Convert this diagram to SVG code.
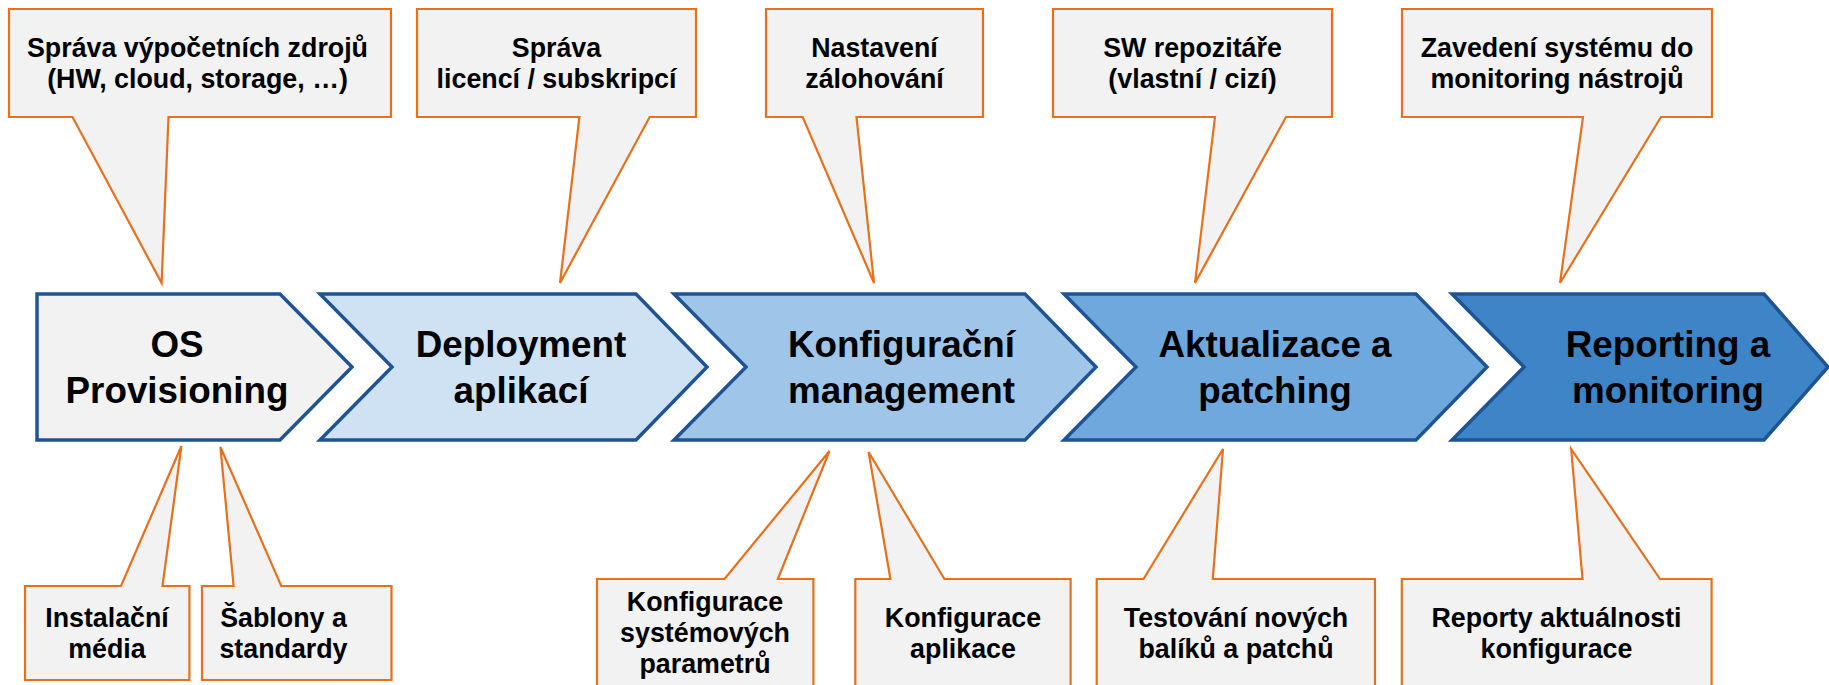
<svg xmlns="http://www.w3.org/2000/svg" width="1829" height="685" viewBox="0 0 1829 685">
<style>
.co{fill:#F2F2F2;stroke:#E8701A;stroke-width:2.2;stroke-linejoin:miter}
.ch{stroke:#1F5494;stroke-width:3.5;stroke-linejoin:miter}
.t1{font-family:"Liberation Sans",Arial,sans-serif;font-weight:bold;font-size:36.8px;fill:#000;text-anchor:middle}
.t2{font-family:"Liberation Sans",Arial,sans-serif;font-weight:bold;font-size:26.8px;fill:#000;text-anchor:middle}
</style>
<rect width="1829" height="685" fill="#FFFFFF"/>
<g id="chevrons">
<g id="os-provisioning">
<path class="ch" fill="#F2F2F2" d="M37,294 H280 L352,367 L280,440 H37 Z"/>
<text class="t1" x="177" y="357.3">OS</text>
<text class="t1" x="177" y="402.5">Provisioning</text>
</g>
<g id="deployment">
<path class="ch" fill="#CFE2F3" d="M320,294 H636 L707,367 L636,440 H320 L392,367 Z"/>
<text class="t1" x="521" y="357.3">Deployment</text>
<text class="t1" x="521" y="402.5">aplikací</text>
</g>
<g id="konfigurace">
<path class="ch" fill="#9FC5E8" d="M674,294 H1025 L1096,367 L1025,440 H674 L746,367 Z"/>
<text class="t1" x="901.5" y="357.3">Konfigurační</text>
<text class="t1" x="901.5" y="402.5">management</text>
</g>
<g id="aktualizace">
<path class="ch" fill="#6FA8DC" d="M1064,294 H1416 L1487,367 L1416,440 H1064 L1136,367 Z"/>
<text class="t1" x="1275" y="357.3">Aktualizace a</text>
<text class="t1" x="1275" y="402.5">patching</text>
</g>
<g id="reporting">
<path class="ch" fill="#3D85C6" d="M1452,294 H1764 L1828,367 L1764,440 H1452 L1524,367 Z"/>
<text class="t1" x="1668" y="357.3">Reporting a</text>
<text class="t1" x="1668" y="402.5">monitoring</text>
</g>
</g>
<g id="callouts-top">
<g id="c-zdroje">
<path class="co" d="M9,9 H391 V117 H168.5 L161.6,283 L72.5,117 H9 Z"/>
<text class="t2" x="197.5" y="57.3">Správa výpočetních zdrojů</text>
<text class="t2" x="197.5" y="88.3">(HW, cloud, storage, …)</text>
</g>
<g id="c-licence">
<path class="co" d="M417,9 H696 V117 H649.7 L560,283 L579.4,117 H417 Z"/>
<text class="t2" x="556.5" y="57.3">Správa</text>
<text class="t2" x="556.5" y="88.3">licencí / subskripcí</text>
</g>
<g id="c-zalohovani">
<path class="co" d="M766,9 H983 V117 H856.5 L874,283 L802.7,117 H766 Z"/>
<text class="t2" x="874.5" y="57.3">Nastavení</text>
<text class="t2" x="874.5" y="88.3">zálohování</text>
</g>
<g id="c-repozitare">
<path class="co" d="M1053,9 H1332 V117 H1286 L1195,283 L1215,117 H1053 Z"/>
<text class="t2" x="1192.5" y="57.3">SW repozitáře</text>
<text class="t2" x="1192.5" y="88.3">(vlastní / cizí)</text>
</g>
<g id="c-monitoring">
<path class="co" d="M1402,9 H1712 V117 H1661 L1560,283 L1583,117 H1402 Z"/>
<text class="t2" x="1557" y="57.3">Zavedení systému do</text>
<text class="t2" x="1557" y="88.3">monitoring nástrojů</text>
</g>
</g>
<g id="callouts-bottom">
<g id="c-media">
<path class="co" d="M25,586 H121 L181.4,446 L162.5,586 H189.4 V680 H25 Z"/>
<text class="t2" x="107" y="626.7">Instalační</text>
<text class="t2" x="107" y="658.3">média</text>
</g>
<g id="c-sablony">
<path class="co" d="M202,586 H233.6 L220.4,447 L281.3,586 H391.5 V680 H202 Z"/>
<text class="t2" x="283.5" y="626.7">Šablony a</text>
<text class="t2" x="283.5" y="658.3">standardy</text>
</g>
<g id="c-sysparam">
<path class="co" d="M597,579 H724.5 L829.5,451 L777.8,579 H813.4 V700 H597 Z"/>
<text class="t2" x="705" y="610.7">Konfigurace</text>
<text class="t2" x="705" y="641.7">systémových</text>
<text class="t2" x="705" y="672.7">parametrů</text>
</g>
<g id="c-aplikace">
<path class="co" d="M855.3,579 H890.4 L868.6,452 L944.4,579 H1070.6 V700 H855.3 Z"/>
<text class="t2" x="963" y="626.7">Konfigurace</text>
<text class="t2" x="963" y="658.3">aplikace</text>
</g>
<g id="c-testovani">
<path class="co" d="M1096.7,579 H1143.5 L1223,449 L1212.8,579 H1375 V700 H1096.7 Z"/>
<text class="t2" x="1236" y="626.7">Testování nových</text>
<text class="t2" x="1236" y="658.3">balíků a patchů</text>
</g>
<g id="c-reporty">
<path class="co" d="M1401.8,579 H1582.5 L1571.2,449 L1660,579 H1711.6 V700 H1401.8 Z"/>
<text class="t2" x="1556.5" y="626.7">Reporty aktuálnosti</text>
<text class="t2" x="1556.5" y="658.3">konfigurace</text>
</g>
</g>
</svg>
